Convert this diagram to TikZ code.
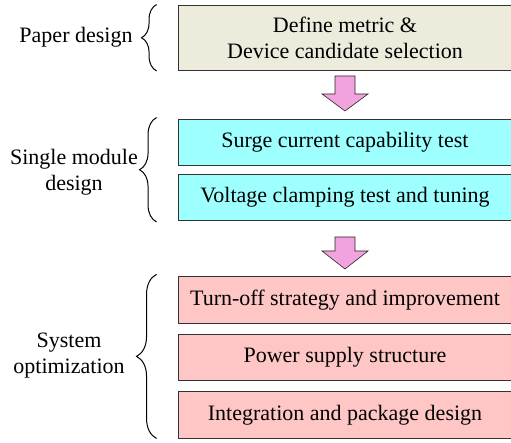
\documentclass[tikz,border=0pt]{standalone}
\usepackage{fontspec}
\setmainfont{Liberation Serif}
\usetikzlibrary{decorations.pathreplacing}
\definecolor{paperfill}{RGB}{237,235,220}
\definecolor{modulefill}{RGB}{158,255,255}
\definecolor{systemfill}{RGB}{255,198,198}
\definecolor{arrowfill}{RGB}{242,162,220}
\tikzset{
    stagebox/.style = {draw = black!80, line width = 0.9pt, minimum width = 334, inner sep = 0pt, align = center},
    fatarrow/.style = {draw = black!85, line width = 0.6pt, fill = arrowfill, line join = miter},
    stagebrace/.style = {decorate, line width = 1pt},
    stagelabel/.style = {align = center}
}

\begin{document}
\begin{tikzpicture}[x = 1pt, y = -1pt, font = \fontsize{22}{26}\selectfont]
    \useasboundingbox (0,0) rectangle (511,443);
    % boxes
    \node [stagebox, fill = paperfill, minimum height = 65.5] (metric) at (345,37.75) {Define metric \&\\Device candidate selection};
    \node [stagebox, fill = modulefill, minimum height = 46.5] (surge) at (345,142.25) {Surge current capability test};
    \node [stagebox, fill = modulefill, minimum height = 46.5] (clamp) at (345,197.25) {Voltage clamping test and tuning};
    \node [stagebox, fill = systemfill, minimum height = 46.5] (turnoff) at (345,300) {Turn-off strategy and improvement};
    \node [stagebox, fill = systemfill, minimum height = 46.5] (supply) at (345,357.25) {Power supply structure};
    \node [stagebox, fill = systemfill, minimum height = 46.5] (package) at (345,414.75) {Integration and package design};
    % arrows
    \draw [fatarrow] (335,76) -- (355,76) -- (355,94) -- (368,94) -- (345,111) -- (322,94) -- (335,94) -- cycle;
    \draw [fatarrow] (335,237) -- (355,237) -- (355,251) -- (368,251) -- (345,269) -- (322,251) -- (335,251) -- cycle;
    % braces
    \draw [stagebrace, decoration = {brace, amplitude = 15}] ([xshift = -21]metric.south west) -- ([xshift = -21]metric.north west);
    \draw [stagebrace, decoration = {brace, amplitude = 17}] ([xshift = -21, yshift = -1]clamp.south west) -- ([xshift = -21, yshift = 1]surge.north west);
    \draw [stagebrace, decoration = {brace, amplitude = 20}] ([xshift = -21]package.south west) -- ([xshift = -21, yshift = 2]turnoff.north west);
    % labels
    \node [stagelabel] (paper) at (76,37) {Paper design};
    \node [stagelabel] (single) at (74,172) {Single module\\design};
    \node [stagelabel] (system) at (69,356) {System\\optimization};
\end{tikzpicture}
\end{document}
